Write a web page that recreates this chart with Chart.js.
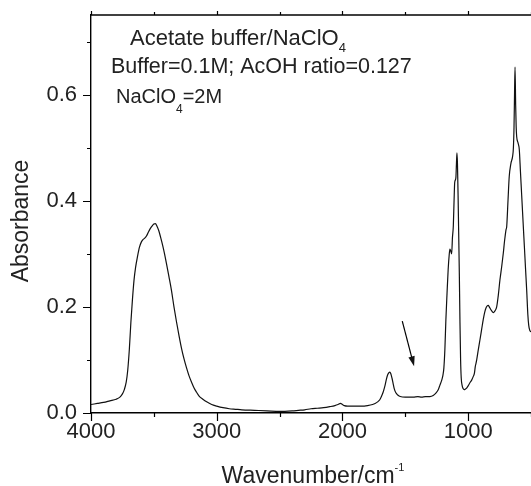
<!DOCTYPE html>
<html>
<head>
<meta charset="utf-8">
<script src="https://cdn.jsdelivr.net/npm/chart.js@4/dist/chart.umd.min.js"></script>
<style>
  html, body { margin: 0; padding: 0; background: #fff; }
  #wrap { width: 531px; height: 486px; }
</style>
</head>
<body>
<div id="wrap"><canvas id="spectrum" width="531" height="486"></canvas></div>
<script>
// IR spectrum, acetate buffer / NaClO4
var wavenumber = [4000, 3950, 3900, 3850, 3800, 3770, 3750, 3735, 3720, 3708, 3695, 3683, 3670, 3658, 3645, 3630, 3615, 3600, 3585, 3575,
  3560, 3545, 3530, 3515, 3500, 3488, 3475, 3460, 3445, 3430, 3415, 3400, 3380, 3360, 3340, 3320, 3300, 3280, 3260, 3240,
  3220, 3200, 3180, 3160, 3140, 3110, 3080, 3040, 3000, 2950, 2900, 2850, 2800, 2700, 2600, 2500, 2400, 2350, 2300, 2250,
  2200, 2150, 2100, 2060, 2035, 2016, 2000, 1985, 1960, 1900, 1850, 1800, 1760, 1740, 1720, 1703, 1690, 1675, 1663, 1650,
  1640, 1630, 1623, 1615, 1605, 1597, 1588, 1575, 1560, 1540, 1500, 1460, 1437, 1400, 1370, 1340, 1304, 1278, 1255, 1238,
  1225, 1210, 1200, 1193, 1185, 1177, 1168, 1159, 1150, 1145, 1138, 1131, 1125, 1118, 1112, 1107, 1100, 1097, 1093, 1089,
  1085, 1080, 1076, 1070, 1065, 1060, 1055, 1048, 1040, 1031, 1022, 1012, 1000, 986, 972, 959, 950, 943, 938, 932,
  920, 906, 893, 880, 868, 858, 848, 840, 832, 820, 808, 800, 794, 785, 773, 760, 747, 733, 720, 710,
  699, 693, 683, 673, 660, 646, 640, 635, 631, 627, 622, 618, 614, 603, 593, 584, 574, 563, 553, 543,
  534, 525, 518, 510, 505, 500];
var absorbance = [0.016, 0.018, 0.020, 0.023, 0.026, 0.030, 0.036, 0.044, 0.058, 0.080, 0.120, 0.170, 0.215, 0.250, 0.275, 0.295, 0.312, 0.322, 0.327, 0.329,
  0.333, 0.340, 0.347, 0.352, 0.356, 0.357, 0.352, 0.343, 0.330, 0.316, 0.300, 0.282, 0.257, 0.231, 0.200, 0.172, 0.146, 0.122, 0.102, 0.085,
  0.070, 0.058, 0.047, 0.039, 0.032, 0.026, 0.021, 0.016, 0.013, 0.010, 0.008, 0.007, 0.006, 0.005, 0.004, 0.003, 0.004, 0.005, 0.006, 0.008,
  0.009, 0.010, 0.012, 0.014, 0.016, 0.018, 0.016, 0.014, 0.013, 0.013, 0.013, 0.014, 0.016, 0.018, 0.021, 0.025, 0.031, 0.040, 0.050, 0.064,
  0.072, 0.076, 0.077, 0.074, 0.065, 0.056, 0.046, 0.038, 0.034, 0.031, 0.030, 0.030, 0.030, 0.031, 0.030, 0.031, 0.031, 0.033, 0.038, 0.044,
  0.052, 0.062, 0.072, 0.085, 0.120, 0.176, 0.225, 0.270, 0.300, 0.309, 0.305, 0.300, 0.330, 0.352, 0.400, 0.434, 0.440, 0.445, 0.470, 0.490,
  0.470, 0.410, 0.350, 0.260, 0.170, 0.100, 0.066, 0.052, 0.046, 0.044, 0.045, 0.047, 0.051, 0.057, 0.062, 0.069, 0.075, 0.088, 0.093, 0.100,
  0.118, 0.138, 0.157, 0.176, 0.190, 0.198, 0.202, 0.203, 0.200, 0.195, 0.191, 0.189, 0.190, 0.193, 0.200, 0.222, 0.251, 0.276, 0.302, 0.325,
  0.345, 0.352, 0.400, 0.446, 0.470, 0.484, 0.500, 0.540, 0.600, 0.652, 0.580, 0.540, 0.521, 0.509, 0.496, 0.455, 0.410, 0.360, 0.315, 0.270,
  0.230, 0.185, 0.165, 0.156, 0.154, 0.153];

var xMajor = [4000, 3000, 2000, 1000];
var xMinor = [3500, 2500, 1500, 500];
var yMajor = [0, 0.2, 0.4, 0.6];
var yMinor = [0.1, 0.3, 0.5, 0.7];

// arrow pointing at the 1400-1500 region: [wavenumber, absorbance] tail -> head
var arrowTail = [1524, 0.173];
var arrowHead = [1430, 0.088];

var points = wavenumber.map(function (w, i) { return { x: w, y: absorbance[i] }; });

var FONT = '"Liberation Sans", Arial, Helvetica, sans-serif';
var INK = '#222';

function drawSubText(ctx, parts, x, y) {
  // parts: [text, size, dy]
  parts.forEach(function (p) {
    ctx.font = p[1] + 'px ' + FONT;
    ctx.fillText(p[0], x, y + p[2]);
    x += ctx.measureText(p[0]).width;
  });
}

function noPadding(s) {
  s.paddingLeft = 0;
  s.paddingRight = 0;
  s.paddingTop = 0;
  s.paddingBottom = 0;
}

var decorations = {
  id: 'decorations',
  afterDraw: function (chart) {
    var ctx = chart.ctx;
    var a = chart.chartArea;
    var xs = chart.scales.x, ys = chart.scales.y;
    ctx.save();
    ctx.strokeStyle = '#000';
    ctx.lineWidth = 1.4;
    // top frame line
    ctx.beginPath();
    ctx.moveTo(a.left, a.top);
    ctx.lineTo(a.right, a.top);
    ctx.stroke();

    ctx.lineWidth = 1.2;
    ctx.beginPath();
    xMajor.concat(xMinor).forEach(function (v) {
      var px = Math.round(xs.getPixelForValue(v)) + 0.5;
      var len = xMajor.indexOf(v) >= 0 ? 8 : 4;
      ctx.moveTo(px, a.bottom);
      ctx.lineTo(px, a.bottom + len);
      ctx.moveTo(px, a.top);
      ctx.lineTo(px, a.top - (len > 4 ? 4 : 3));
    });
    yMajor.concat(yMinor).forEach(function (v) {
      var py = Math.round(ys.getPixelForValue(v)) + 0.5;
      var len = yMajor.indexOf(v) >= 0 ? 8 : 4;
      ctx.moveTo(a.left, py);
      ctx.lineTo(a.left - len, py);
    });
    ctx.stroke();

    // arrow
    var x0 = xs.getPixelForValue(arrowTail[0]), y0 = ys.getPixelForValue(arrowTail[1]);
    var x1 = xs.getPixelForValue(arrowHead[0]), y1 = ys.getPixelForValue(arrowHead[1]);
    var ang = Math.atan2(y1 - y0, x1 - x0);
    var hl = 10, hw = 3.2;
    ctx.lineWidth = 1.2;
    ctx.beginPath();
    ctx.moveTo(x0, y0);
    ctx.lineTo(x1 - Math.cos(ang) * hl * 0.8, y1 - Math.sin(ang) * hl * 0.8);
    ctx.stroke();
    ctx.fillStyle = '#111';
    ctx.beginPath();
    ctx.moveTo(x1, y1);
    ctx.lineTo(x1 - Math.cos(ang) * hl - Math.sin(ang) * hw, y1 - Math.sin(ang) * hl + Math.cos(ang) * hw);
    ctx.lineTo(x1 - Math.cos(ang) * hl + Math.sin(ang) * hw, y1 - Math.sin(ang) * hl - Math.cos(ang) * hw);
    ctx.closePath();
    ctx.fill();

    // axis titles
    ctx.fillStyle = INK;
    ctx.textBaseline = 'alphabetic';
    ctx.textAlign = 'left';
    ctx.font = '23px ' + FONT;
    var wMain = ctx.measureText('Wavenumber/cm').width;
    ctx.font = '11px ' + FONT;
    var wSup = ctx.measureText('-1').width;
    var tx = (a.left + a.right) / 2 - (wMain + wSup) / 2 + 2;
    drawSubText(ctx, [['Wavenumber/cm', 23, 0], ['-1', 11, -12]], tx, 483);

    ctx.save();
    ctx.translate(28, 221);
    ctx.rotate(-Math.PI / 2);
    ctx.font = '23px ' + FONT;
    ctx.textAlign = 'center';
    ctx.fillText('Absorbance', 0, 0);
    ctx.restore();

    // annotation
    drawSubText(ctx, [['Acetate buffer/NaClO', 22, 0], ['4', 13, 7]], 130, 45);
    drawSubText(ctx, [['Buffer=0.1M; AcOH ratio=0.127', 21.5, 0]], 111, 73);
    drawSubText(ctx, [['NaClO', 20, 0], ['4', 12, 10], ['=2M', 20, 0]], 116, 103);
    ctx.restore();
  }
};

new Chart(document.getElementById('spectrum'), {
  type: 'line',
  data: {
    datasets: [{
      label: 'Absorbance',
      data: points,
      borderColor: '#111',
      borderWidth: 1.2,
      pointRadius: 0,
      fill: false,
      cubicInterpolationMode: 'monotone'
    }]
  },
  options: {
    responsive: false,
    animation: false,
    devicePixelRatio: 1,
    layout: { padding: { left: 0, right: 0, top: 15, bottom: 0 } },
    plugins: { legend: { display: false }, tooltip: { enabled: false } },
    scales: {
      x: {
        type: 'linear',
        position: 'bottom',
        min: 500,
        max: 4000,
        reverse: true,
        grid: { display: false, drawTicks: false },
        border: { display: true, color: '#000', width: 1.4 },
        ticks: {
          stepSize: 500,
          autoSkip: false,
          maxRotation: 0,
          padding: 6,
          color: INK,
          font: { family: FONT, size: 22 },
          callback: function (v) { return xMajor.indexOf(v) >= 0 ? String(v) : ''; }
        },
        afterFit: function (s) { s.height = 73; noPadding(s); }
      },
      y: {
        min: 0,
        max: 0.75,
        grid: { display: false, drawTicks: false },
        border: { display: true, color: '#000', width: 1.4 },
        ticks: {
          stepSize: 0.1,
          padding: 14,
          color: INK,
          font: { family: FONT, size: 22 },
          callback: function (v) {
            var r = Math.round(v * 100);
            return r % 20 === 0 ? (r / 100).toFixed(1) : '';
          }
        },
        afterFit: function (s) { s.width = 91; noPadding(s); }
      }
    }
  },
  plugins: [decorations]
});
</script>
</body>
</html>
